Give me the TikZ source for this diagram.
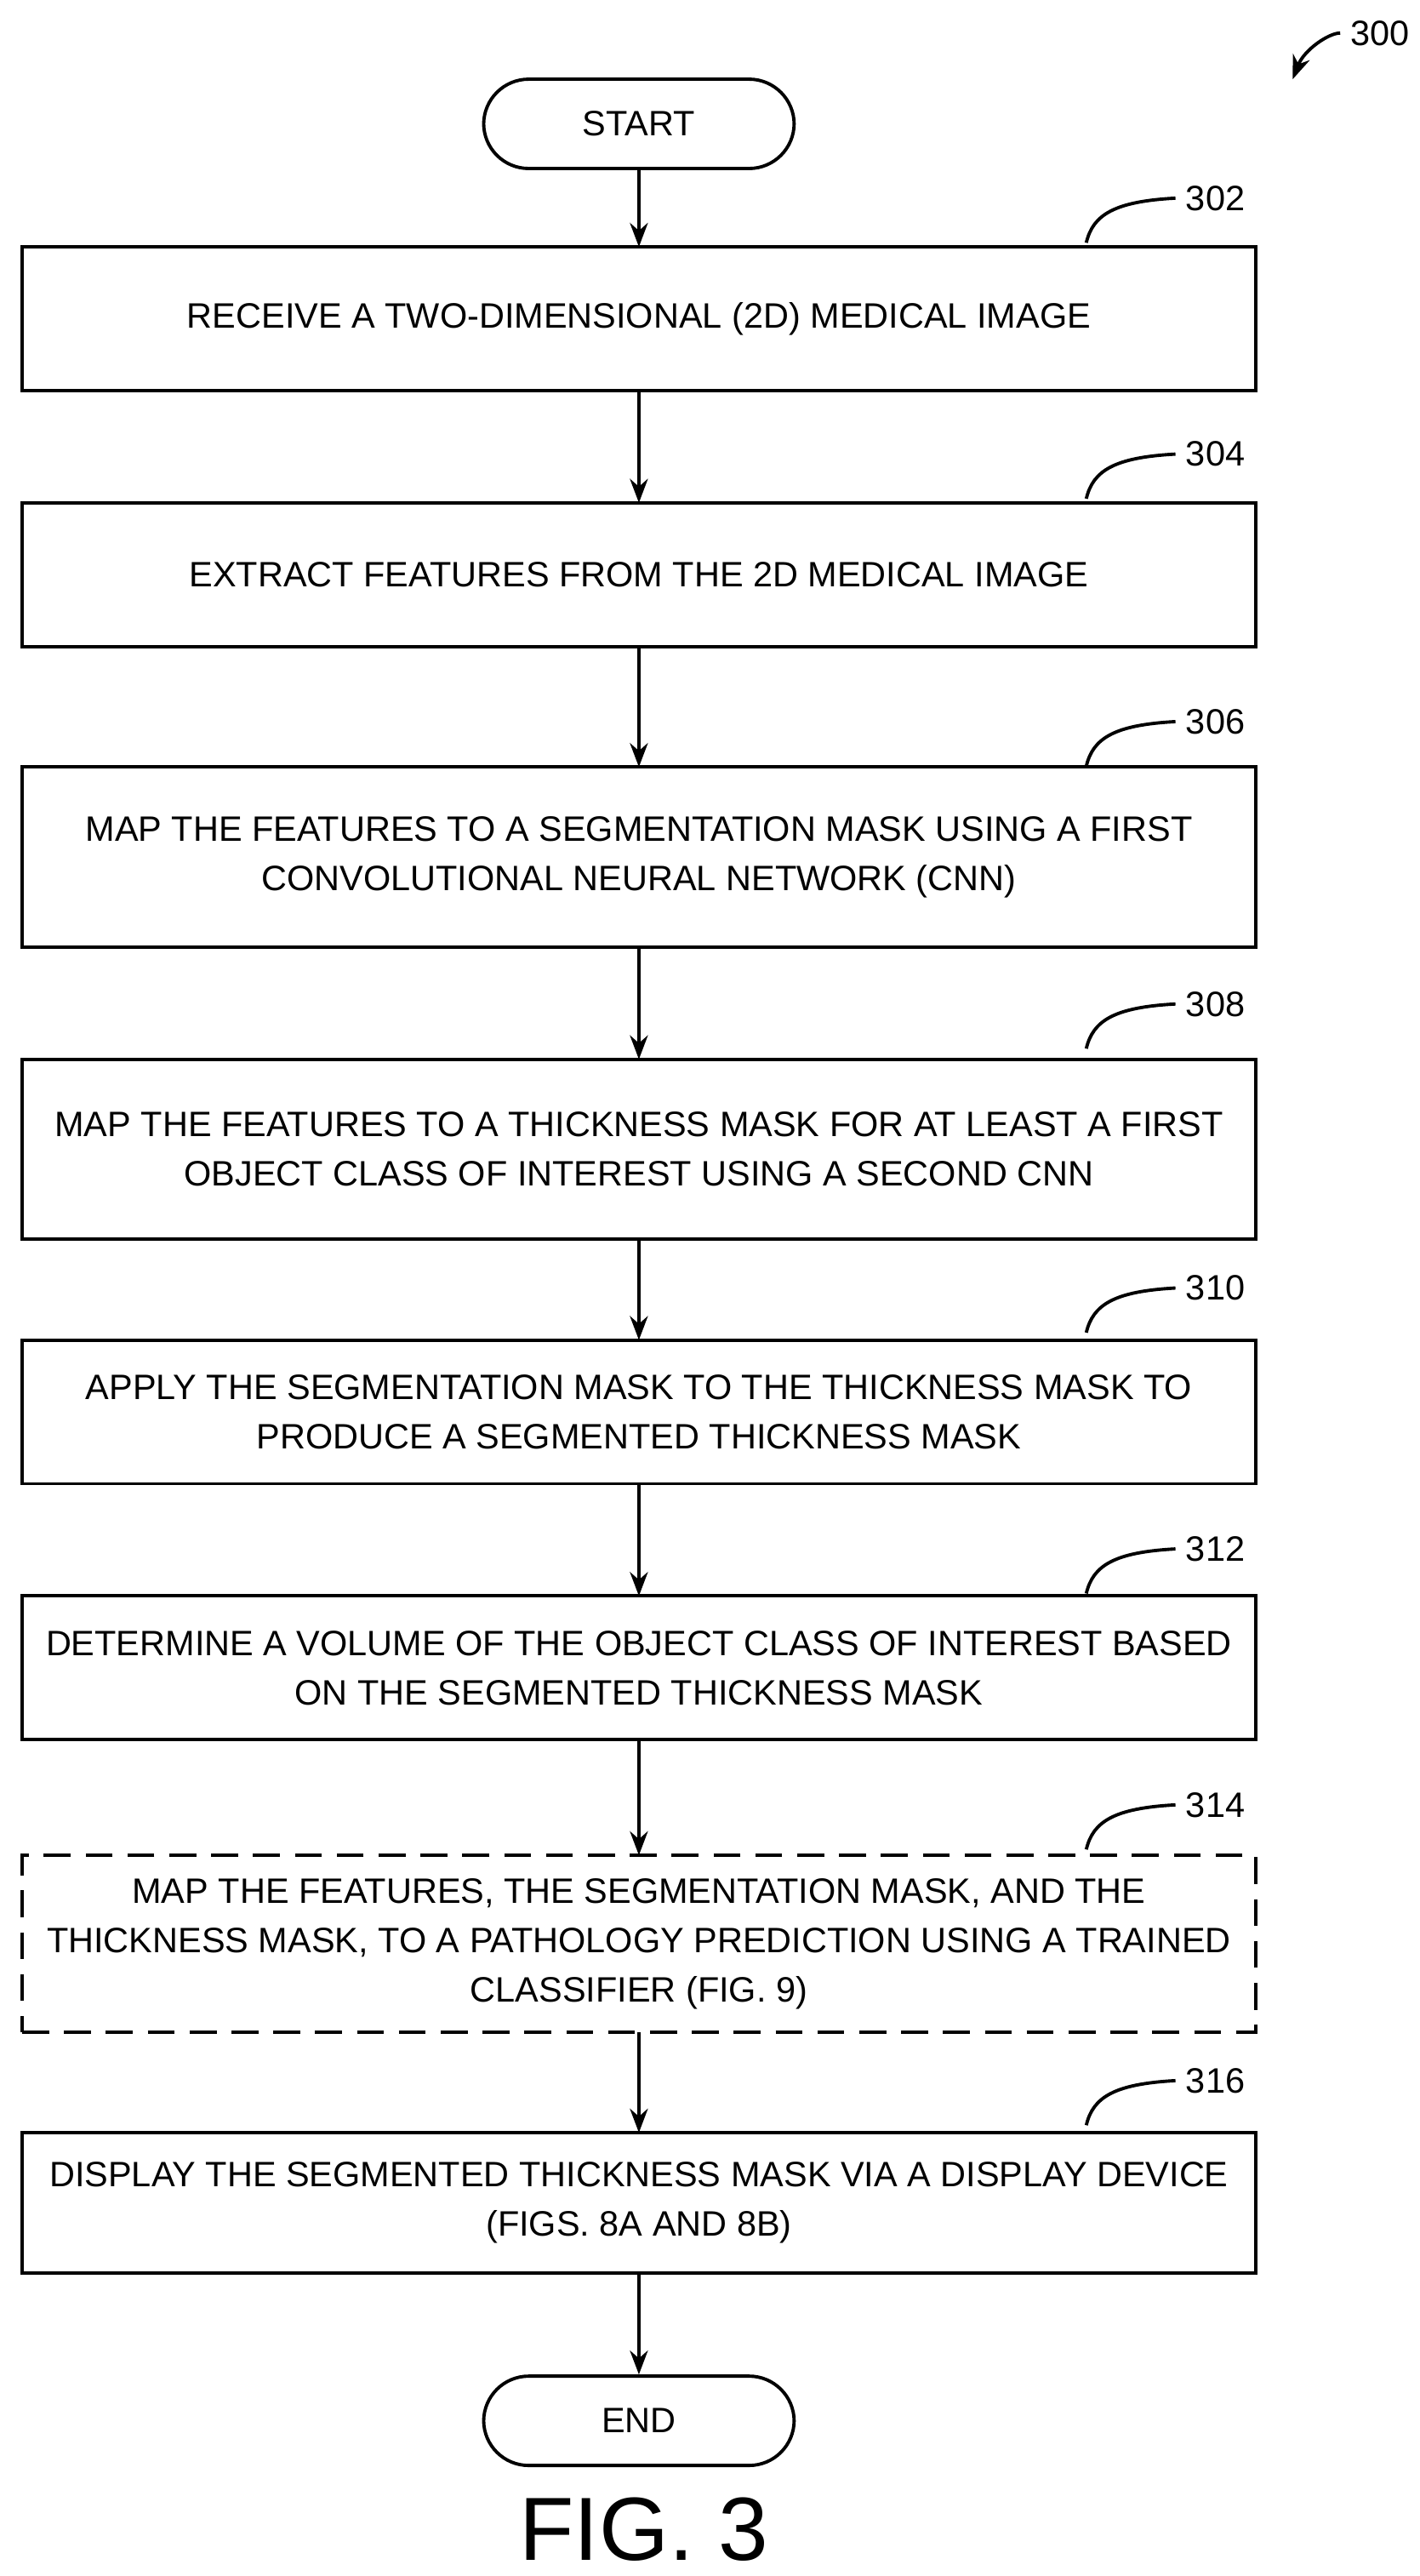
\documentclass[tikz,border=0pt]{standalone}
\usepackage{fontspec}
\setmainfont{Liberation Sans}
\usetikzlibrary{arrows.meta}
\begin{document}
\begin{tikzpicture}[x=0.01941cm,y=-0.01941cm,
 box/.style={draw,line width=1.1pt,align=center,font=\fontsize{11.8}{16.5}\selectfont,inner sep=0pt,outer sep=0pt},
 pill/.style={draw,line width=1.1pt,rounded corners=0.53cm,minimum width=3.65cm,minimum height=1.05cm,font=\fontsize{11.8}{14}\selectfont},
 arr/.style={-{Stealth[length=8pt,width=6pt]},line width=1.1pt},
 lead/.style={line width=1.1pt},
 lbl/.style={font=\fontsize{11.8}{14}\selectfont}]
\useasboundingbox (0,0) rectangle (860,1560);
\tikzset{bx/.style={box,minimum width=14.50cm,minimum height=#1*0.01941cm}}
\node[pill] (start) at (387,75) {START};
\node[bx={87}] (b302) at (387,193) {RECEIVE A TWO-DIMENSIONAL (2D) MEDICAL IMAGE};
\node[bx={87}] (b304) at (387,348) {EXTRACT FEATURES FROM THE 2D MEDICAL IMAGE};
\node[bx={109}] (b306) at (387,519) {MAP THE FEATURES TO A SEGMENTATION MASK USING A FIRST\\CONVOLUTIONAL NEURAL NETWORK (CNN)};
\node[bx={109}] (b308) at (387,696) {MAP THE FEATURES TO A THICKNESS MASK FOR AT LEAST A FIRST\\OBJECT CLASS OF INTEREST USING A SECOND CNN};
\node[bx={87}] (b310) at (387,855) {APPLY THE SEGMENTATION MASK TO THE THICKNESS MASK TO\\PRODUCE A SEGMENTED THICKNESS MASK};
\node[bx={87}] (b312) at (387,1010) {DETERMINE A VOLUME OF THE OBJECT CLASS OF INTEREST BASED\\ON THE SEGMENTED THICKNESS MASK};
\node[bx={107},dash pattern=on 9pt off 5pt] (b314) at (387,1177) {MAP THE FEATURES, THE SEGMENTATION MASK, AND THE\\THICKNESS MASK, TO A PATHOLOGY PREDICTION USING A TRAINED\\CLASSIFIER (FIG. 9)};
\node[bx={85}] (b316) at (387,1334) {DISPLAY THE SEGMENTED THICKNESS MASK VIA A DISPLAY DEVICE\\(FIGS. 8A AND 8B)};
\node[pill] (end) at (387,1466) {END};
\foreach \a/\b in {start/b302,b302/b304,b304/b306,b306/b308,b308/b310,b310/b312,b312/b314,b314/b316,b316/end}
  \draw[arr] (\a) -- (\b);
\foreach \n/\y in {302/120,304/275,306/437,308/608,310/780,312/938,314/1093,316/1260}{
  \node[lbl,anchor=west] (l\n) at (712,\y) {\n};
  \coordinate (c\n) at (658,\y+27);
  \draw[lead] (c\n) .. controls (662,\y+10) and (675,\y+2) .. (l\n.west);
}
\node[lbl] (l300) at (836,20) {300};
\coordinate (t300) at (783,48);
\draw[lead,-{Stealth[length=8pt,width=6pt]}] (l300.west) .. controls (805,20) and (790,30) .. (t300);
\node[font=\fontsize{30}{36}\selectfont] (fig) at (390,1532) {FIG. 3};
\end{tikzpicture}
\end{document}
